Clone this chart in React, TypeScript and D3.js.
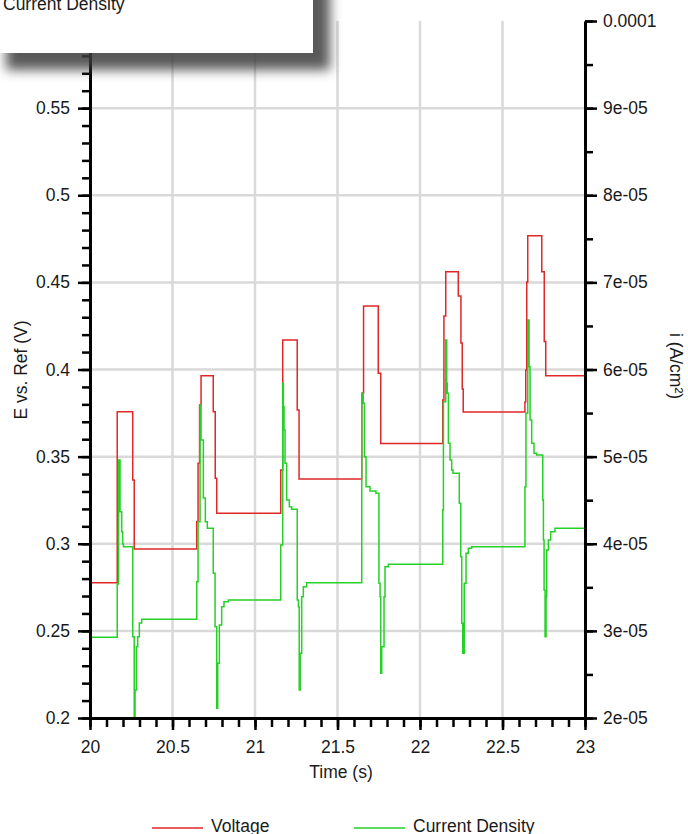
import React, { useRef, useEffect } from "react";
import * as d3 from "d3";

const W = 688;
const H = 834;

const xTicks = [20, 20.5, 21, 21.5, 22, 22.5, 23];
const xTickLabels = ["20", "20.5", "21", "21.5", "22", "22.5", "23"];
const leftTicks = [0.2, 0.25, 0.3, 0.35, 0.4, 0.45, 0.5, 0.55, 0.6];
// the 0.6 label sits under the floating legend box
const leftTickLabels = ["0.2", "0.25", "0.3", "0.35", "0.4", "0.45", "0.5", "0.55", ""];
const rightTicks = [2e-5, 3e-5, 4e-5, 5e-5, 6e-5, 7e-5, 8e-5, 9e-5, 1e-4];
const rightTickLabels = ["2e-05", "3e-05", "4e-05", "5e-05", "6e-05", "7e-05", "8e-05", "9e-05", "0.0001"];

const seriesNames = ["Voltage", "Current Density"];
const seriesColors = ["#e02828", "#26d026"];

// time (s), E vs. Ref (V)
const voltage: [number, number][] = [
  [20.000, 0.2776], [20.165, 0.3758], [20.259, 0.3366], [20.268, 0.2970],
  [20.647, 0.3127], [20.655, 0.3462], [20.664, 0.3796], [20.673, 0.3964],
  [20.747, 0.3758], [20.759, 0.3376], [20.768, 0.3175],
  [21.156, 0.3423], [21.168, 0.4169], [21.256, 0.3768], [21.267, 0.3372],
  [21.647, 0.3863], [21.658, 0.4364], [21.747, 0.3978], [21.762, 0.3576],
  [22.138, 0.3825], [22.145, 0.4307], [22.156, 0.4561], [22.232, 0.4422],
  [22.248, 0.4152], [22.256, 0.3888], [22.262, 0.3756],
  [22.636, 0.3814], [22.641, 0.3997], [22.647, 0.4502], [22.653, 0.4768],
  [22.738, 0.4561], [22.753, 0.4160], [22.762, 0.3964], [23.000, 0.3964],
];

// time (s), i (A/cm²)
const currentDensity: [number, number][] = [
  [20.000, 2.926e-5], [20.165, 3.538e-5], [20.173, 4.961e-5], [20.182, 4.368e-5],
  [20.192, 4.138e-5], [20.198, 3.997e-5], [20.203, 3.966e-5], [20.259, 2.933e-5],
  [20.268, 1.95e-5], [20.273, 2.321e-5], [20.281, 2.818e-5], [20.289, 2.933e-5],
  [20.299, 3.090e-5], [20.313, 3.133e-5],
  [20.647, 3.564e-5], [20.655, 4.253e-5], [20.667, 5.593e-5], [20.673, 5.191e-5],
  [20.687, 4.525e-5], [20.699, 4.253e-5], [20.711, 4.177e-5], [20.747, 3.661e-5],
  [20.758, 3.048e-5], [20.768, 2.111e-5], [20.774, 2.628e-5], [20.784, 3.067e-5],
  [20.798, 3.277e-5], [20.812, 3.335e-5], [20.838, 3.354e-5],
  [21.156, 3.986e-5], [21.168, 5.842e-5], [21.172, 5.573e-5], [21.176, 5.306e-5],
  [21.182, 4.923e-5], [21.192, 4.502e-5], [21.208, 4.425e-5], [21.222, 4.396e-5],
  [21.256, 3.354e-5], [21.263, 3.277e-5], [21.268, 2.321e-5], [21.274, 2.743e-5],
  [21.283, 3.392e-5], [21.293, 3.507e-5], [21.313, 3.553e-5],
  [21.647, 5.727e-5], [21.656, 5.612e-5], [21.663, 4.999e-5], [21.673, 4.655e-5],
  [21.697, 4.606e-5], [21.733, 4.579e-5], [21.751, 3.546e-5], [21.758, 3.392e-5],
  [21.762, 2.513e-5], [21.768, 2.818e-5], [21.782, 3.392e-5], [21.788, 3.737e-5],
  [21.808, 3.764e-5],
  [22.138, 4.387e-5], [22.142, 5.630e-5], [22.156, 6.339e-5], [22.162, 5.842e-5],
  [22.165, 5.727e-5], [22.172, 5.153e-5], [22.182, 4.961e-5], [22.192, 4.847e-5],
  [22.200, 4.809e-5], [22.238, 4.464e-5], [22.247, 3.851e-5], [22.253, 3.087e-5],
  [22.259, 2.743e-5], [22.268, 3.546e-5], [22.279, 3.890e-5], [22.293, 3.948e-5],
  [22.313, 3.966e-5],
  [22.636, 4.655e-5], [22.642, 5.497e-5], [22.653, 6.568e-5], [22.661, 6.032e-5],
  [22.667, 5.420e-5], [22.677, 5.153e-5], [22.691, 5.038e-5], [22.707, 5.019e-5],
  [22.744, 4.502e-5], [22.748, 4.043e-5], [22.752, 3.469e-5], [22.758, 2.933e-5],
  [22.764, 3.392e-5], [22.768, 3.928e-5], [22.778, 4.043e-5], [22.792, 4.138e-5],
  [22.818, 4.177e-5], [23.000, 4.177e-5],
];

const FONT = "'Liberation Sans', Arial, sans-serif";
const FS = 17.5;

export default function App() {
  const svgRef = useRef<SVGSVGElement>(null);

  useEffect(() => {
    const svg = d3.select(svgRef.current);
    svg.selectAll("*").remove();

    const left = 90, right = 585, top = 21, bottom = 718;
    const x = d3.scaleLinear().domain([20, 23]).range([left, right]);
    const yL = d3.scaleLinear().domain([0.2, 0.6]).range([bottom, top]);
    const yR = d3.scaleLinear().domain([2e-5, 1e-4]).range([bottom, top]);

    const defs = svg.append("defs");
    defs.append("clipPath").attr("id", "plotArea")
      .append("rect").attr("x", left).attr("y", top)
      .attr("width", right - left).attr("height", bottom - top);
    defs.append("filter").attr("id", "boxShadow")
      .attr("x", "-20%").attr("y", "-50%").attr("width", "140%").attr("height", "200%")
      .append("feGaussianBlur").attr("stdDeviation", 6);

    // grid
    const grid = svg.append("g").attr("stroke", "#d9d9d9").attr("stroke-width", 2.5);
    grid.selectAll("line.gv").data(xTicks.slice(1, -1)).join("line")
      .attr("class", "gv")
      .attr("x1", d => x(d)).attr("x2", d => x(d)).attr("y1", top).attr("y2", bottom);
    grid.selectAll("line.gh").data(leftTicks.slice(1, -1)).join("line")
      .attr("class", "gh")
      .attr("x1", left).attr("x2", right).attr("y1", d => yL(d)).attr("y2", d => yL(d));

    // series
    const plot = svg.append("g").attr("clip-path", "url(#plotArea)");
    const vLine = d3.line<[number, number]>()
      .x(d => x(d[0])).y(d => yL(d[1])).curve(d3.curveStepAfter);
    const iLine = d3.line<[number, number]>()
      .x(d => x(d[0])).y(d => yR(d[1])).curve(d3.curveStepAfter);
    plot.append("path").datum(voltage).attr("d", vLine)
      .attr("fill", "none").attr("stroke", seriesColors[0]).attr("stroke-width", 1.5);
    plot.append("path").datum(currentDensity).attr("d", iLine)
      .attr("fill", "none").attr("stroke", seriesColors[1]).attr("stroke-width", 1.5);

    const styleAxis = (g: any) => {
      g.attr("font-size", FS).attr("font-family", FONT);
      g.select(".domain").attr("stroke", "#000").attr("stroke-width", 3);
      g.selectAll(".tick line").attr("stroke", "#000").attr("stroke-width", 2.5);
      g.selectAll(".tick text").attr("fill", "#1a1a1a");
    };
    const minor = (g: any) => {
      g.select(".domain").remove();
      g.selectAll(".tick line").attr("stroke", "#000").attr("stroke-width", 2.5);
    };

    const xMinor = d3.range(0, 31).map(i => 20 + i / 10);
    const lMinor = d3.range(0, 41).map(i => 0.2 + i / 100);
    const rMinor = d3.range(0, 17).map(i => 2e-5 + i * 5e-6);

    // minor ticks
    svg.append("g").attr("transform", `translate(0,${bottom})`)
      .call(d3.axisBottom(x).tickValues(xMinor).tickSize(9).tickSizeOuter(0).tickFormat(() => ""))
      .call(minor);
    svg.append("g").attr("transform", `translate(${left},0)`)
      .call(d3.axisLeft(yL).tickValues(lMinor).tickSize(8).tickSizeOuter(0).tickFormat(() => ""))
      .call(minor);
    svg.append("g").attr("transform", `translate(${right},0)`)
      .call(d3.axisRight(yR).tickValues(rMinor).tickSize(8).tickSizeOuter(0).tickFormat(() => ""))
      .call(minor);

    // major axes
    svg.append("g").attr("transform", `translate(0,${bottom})`)
      .call(d3.axisBottom(x).tickValues(xTicks).tickSize(12).tickPadding(11).tickSizeOuter(0)
        .tickFormat((d: any) => xTickLabels[xTicks.indexOf(d)]))
      .call(styleAxis);
    svg.append("g").attr("transform", `translate(${left},0)`)
      .call(d3.axisLeft(yL).tickValues(leftTicks).tickSize(12).tickPadding(8).tickSizeOuter(0)
        .tickFormat((d: any) => leftTickLabels[leftTicks.indexOf(d)]))
      .call(styleAxis);
    svg.append("g").attr("transform", `translate(${right},0)`)
      .call(d3.axisRight(yR).tickValues(rightTicks).tickSize(12).tickPadding(6).tickSizeOuter(0)
        .tickFormat((d: any) => rightTickLabels[rightTicks.indexOf(d)]))
      .call(styleAxis);

    // axis titles
    const txt = (s: any) => s.attr("font-family", FONT).attr("font-size", FS).attr("fill", "#1a1a1a");
    svg.append("text").text("Time (s)").attr("x", 341).attr("y", 778)
      .attr("text-anchor", "middle").call(txt);
    svg.append("text").text("E vs. Ref (V)")
      .attr("transform", "translate(21,370) rotate(-90)")
      .attr("text-anchor", "middle").attr("dy", "0.35em").call(txt);
    svg.append("text").text("i (A/cm²)")
      .attr("transform", "translate(676,366) rotate(90)")
      .attr("text-anchor", "middle").attr("dy", "0.35em").call(txt);

    // bottom legend
    const legX = [152, 354];
    const lg = svg.append("g");
    seriesNames.forEach((name, i) => {
      lg.append("line").attr("x1", legX[i]).attr("x2", legX[i] + 51)
        .attr("y1", 828).attr("y2", 828)
        .attr("stroke", seriesColors[i]).attr("stroke-width", 1.5);
      lg.append("text").text(name).attr("x", legX[i] + 59).attr("y", 832).call(txt);
    });

    // floating legend box (cut off at the top) with its drop shadow
    svg.append("rect").attr("x", 6).attr("y", -30).attr("width", 324).attr("height", 100)
      .attr("fill", "#3c3c3c").attr("opacity", 0.85).attr("filter", "url(#boxShadow)");
    svg.append("rect").attr("x", -4).attr("y", -4).attr("width", 317).attr("height", 57)
      .attr("fill", "#fff");
    svg.append("text").text(seriesNames[1]).attr("x", 3).attr("y", 9.5).call(txt);
  }, []);

  return (
    <svg
      ref={svgRef}
      width={W}
      height={H}
      style={{ position: "absolute", left: 0, top: 0, background: "#fff", display: "block" }}
    />
  );
}
